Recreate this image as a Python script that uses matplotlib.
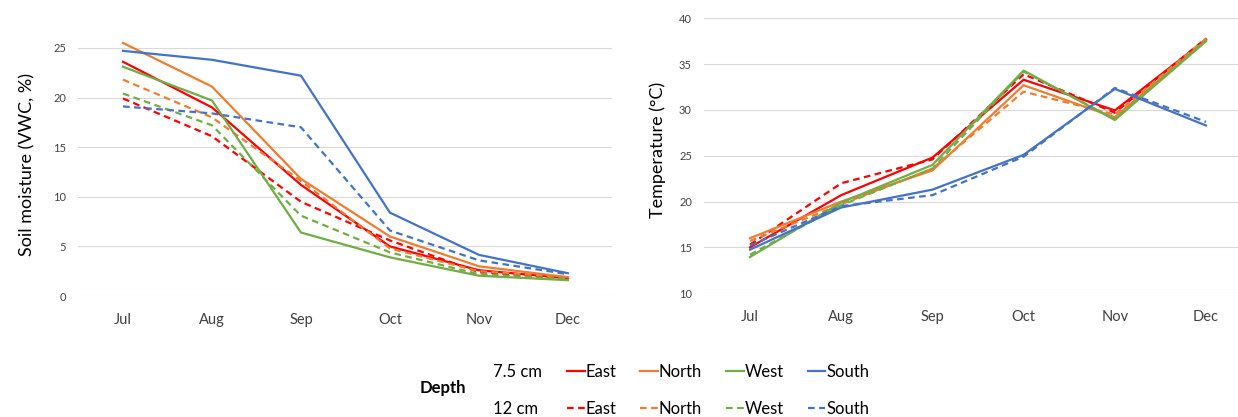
import numpy as np
import matplotlib
matplotlib.use("Agg")
import matplotlib.pyplot as plt

plt.rcParams['font.family'] = ['Lato', 'DejaVu Sans']

months = ['Jul', 'Aug', 'Sep', 'Oct', 'Nov', 'Dec']
sites = ['East', 'North', 'West', 'South']
colors = ['#FF0000', '#ED7D31', '#70AD47', '#4472C4']

# soil moisture (VWC, %) at 7.5 cm and 12 cm
moist_75 = {
    'East':  [23.6, 19.0, 11.2, 5.0, 2.6, 1.8],
    'North': [25.5, 21.1, 11.8, 6.0, 3.0, 1.9],
    'West':  [23.1, 19.7, 6.4, 3.9, 2.05, 1.6],
    'South': [24.7, 23.8, 22.2, 8.4, 4.15, 2.3],
}
moist_12 = {
    'East':  [19.9, 16.1, 9.5, 5.6, 2.4, 1.8],
    'North': [21.8, 18.0, 11.6, 4.8, 2.5, 1.9],
    'West':  [20.4, 17.2, 8.1, 4.4, 2.2, 1.7],
    'South': [19.1, 18.4, 17.0, 6.6, 3.6, 2.2],
}

# temperature (C) at 7.5 cm and 12 cm
temp_75 = {
    'East':  [15.0, 20.7, 24.8, 33.3, 29.95, 37.7],
    'North': [16.0, 20.0, 23.4, 32.7, 29.2, 37.6],
    'West':  [13.95, 19.9, 24.0, 34.3, 28.9, 37.5],
    'South': [14.75, 19.35, 21.3, 25.1, 32.3, 28.3],
}
temp_12 = {
    'East':  [15.3, 22.0, 24.6, 33.9, 29.7, 37.8],
    'North': [15.7, 19.7, 23.6, 32.0, 29.5, 37.8],
    'West':  [14.2, 19.6, 23.6, 34.2, 29.0, 37.6],
    'South': [15.2, 19.5, 20.7, 24.9, 32.4, 28.7],
}

fig = plt.figure(figsize=(12.38, 4.17), dpi=100)
ax1 = fig.add_axes([0.0634, 0.290, 0.4313, 0.619])
ax2 = fig.add_axes([0.569, 0.297, 0.442, 0.659])

x = np.arange(len(months))
dash = (0, (3, 2))

def draw(ax, d75, d12):
    solid, dashed = [], []
    for s, c in zip(sites, colors):
        l1, = ax.plot(x, d75[s], color=c, lw=1.6)
        l2, = ax.plot(x, d12[s], color=c, lw=1.6, linestyle=dash)
        solid.append(l1)
        dashed.append(l2)
    ax.set_xlim(-0.5, len(months) - 0.5)
    ax.set_xticks(x)
    ax.set_xticklabels(months, fontsize=10.5, color='#404040')
    ax.grid(axis='y', color='#D9D9D9', lw=0.8)
    ax.set_axisbelow(True)
    for sp in ax.spines.values():
        sp.set_visible(False)
    ax.tick_params(axis='x', length=0, pad=12)
    ax.tick_params(axis='y', length=0, pad=9, labelsize=8, labelcolor='#404040')
    return solid, dashed

solid, dashed = draw(ax1, moist_75, moist_12)
ax1.set_ylim(0, 26)
ax1.set_yticks(np.arange(0, 26, 5))
ax1.set_ylabel('Soil moisture (VWC, %)', fontsize=13)
ax1.yaxis.set_label_coords(-0.080, 0.51)

draw(ax2, temp_75, temp_12)
ax2.set_ylim(10, 40)
ax2.set_yticks(np.arange(10, 41, 5))
ax2.set_ylabel('Temperature (°C)', fontsize=13)
ax2.yaxis.set_label_coords(-0.071, 0.52)

# legend block
fig.text(420 / 1238, 1 - 388 / 417, 'Depth', fontsize=12, fontweight='bold',
         ha='left', va='center')
fig.text(493 / 1238, 1 - 372 / 417, '7.5 cm', fontsize=12, ha='left', va='center')
fig.text(493 / 1238, 1 - 409 / 417, '12 cm', fontsize=12, ha='left', va='center')
for handles, yy in [(solid, 372), (dashed, 409)]:
    fig.legend(handles=handles, labels=sites, loc='center left',
               bbox_to_anchor=(567 / 1238, 1 - yy / 417), ncol=4, frameon=False,
               handlelength=1.05, handletextpad=0.05, columnspacing=1.45,
               fontsize=12, borderaxespad=0, borderpad=0)

fig.savefig('out.png', dpi=100)
